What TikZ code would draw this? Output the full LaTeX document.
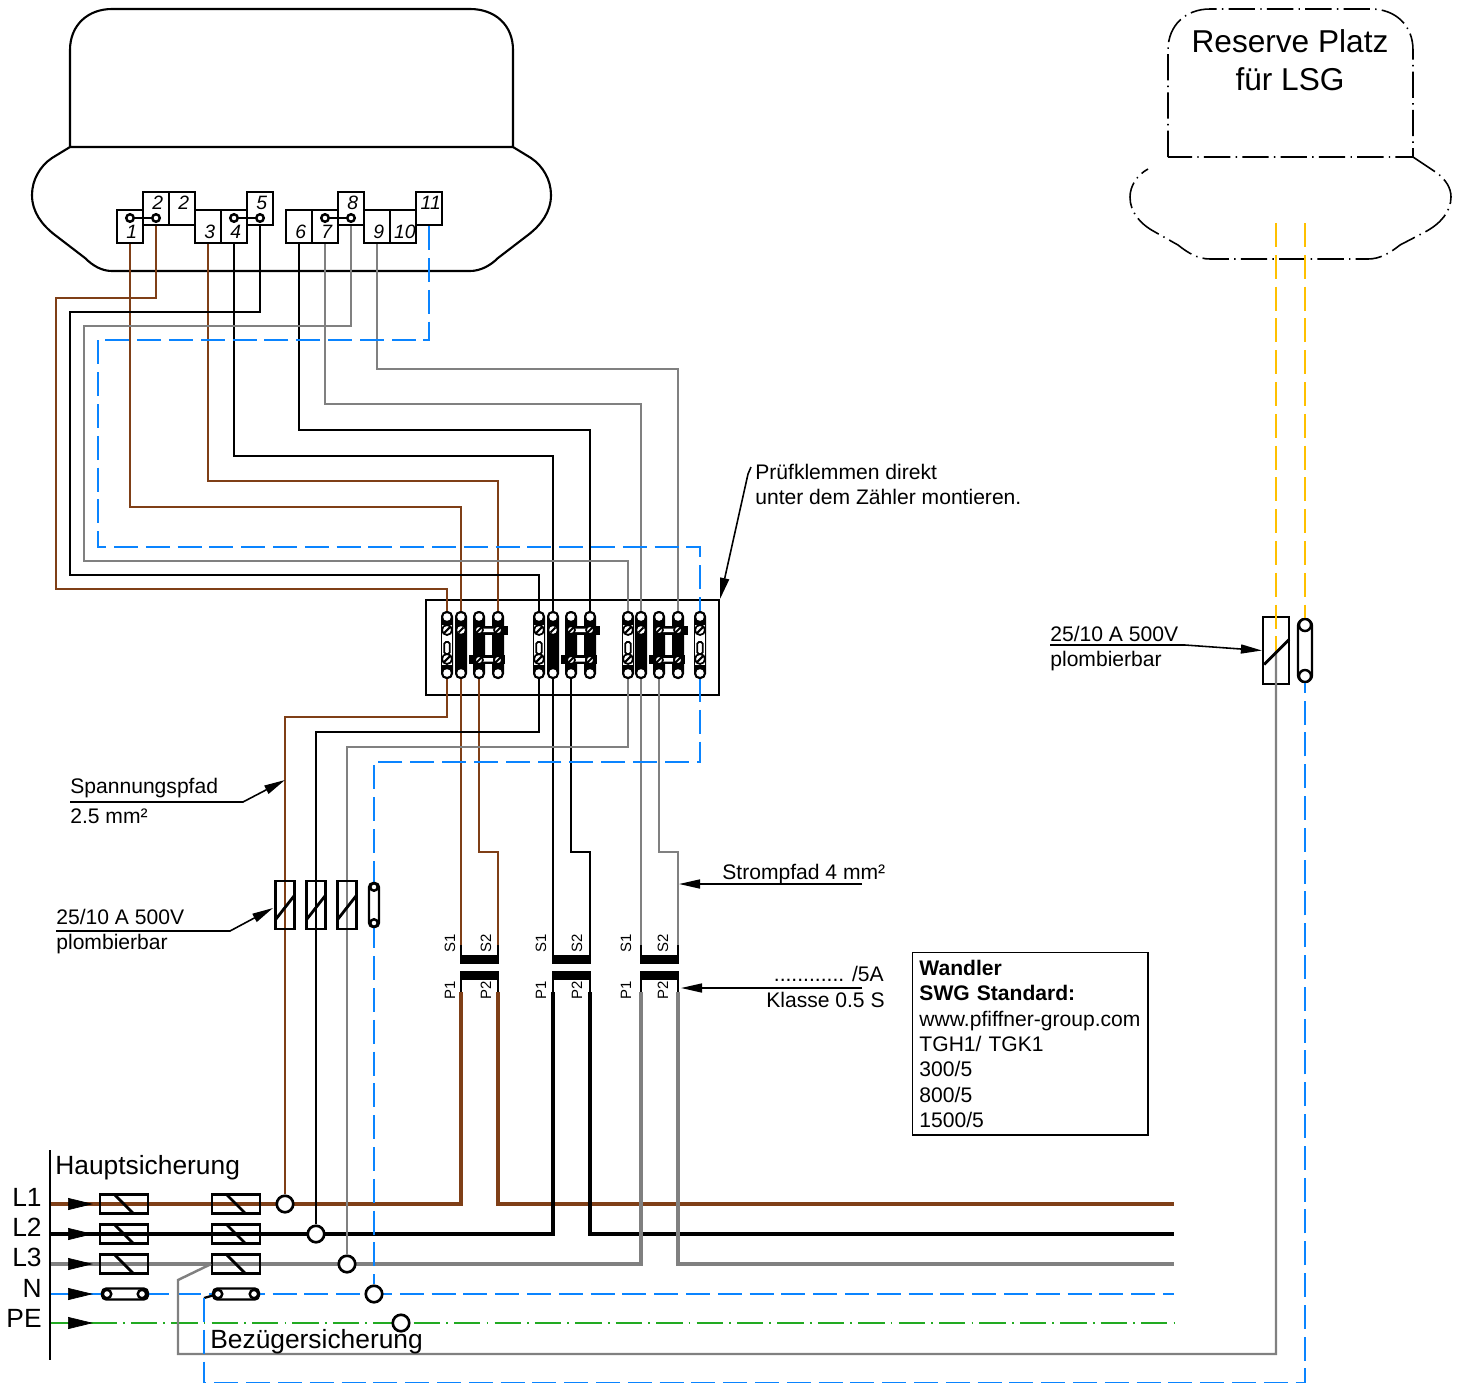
\documentclass[tikz,border=0pt]{standalone}
\usepackage{fontspec}
\setmainfont{Liberation Sans}
\usetikzlibrary{calc}
\usetikzlibrary{arrows.meta,positioning}
\definecolor{kabelbraun}{HTML}{7F3F17}
\definecolor{kabelgrau}{HTML}{808080}
\definecolor{kabelblau}{HTML}{0A84FF}
\definecolor{kabelgruen}{HTML}{22AA22}
\definecolor{kabelgelb}{HTML}{FFC000}
\tikzset{
  draht/.style={line width=1.4pt,line join=miter},
  dick/.style={line width=2.4pt,line join=miter},
  braun/.style={draht,color=kabelbraun},
  schwarz/.style={draht,color=black},
  grau/.style={draht,color=kabelgrau},
  blau/.style={draht,line width=1.5pt,color=kabelblau,dash pattern=on 13.6pt off 4.5pt},
  gelb/.style={draht,line width=1.5pt,color=kabelgelb,dash pattern=on 13.6pt off 4.5pt},
  gruen/.style={draht,color=kabelgruen,dash pattern=on 15pt off 3.5pt on 1pt off 3.5pt},
  reserve/.style={line width=.9pt,dash pattern=on 15pt off 3pt on .8pt off 3pt},
  pfeil/.style={line width=.9pt,-{Stealth[length=.42cm,width=.18cm,inset=0pt]}},
  einspeisung/.style={line width=.4pt,-{Stealth[length=.5cm,width=.24cm,inset=0pt]}},
  text11/.style={inner sep=0pt,font=\fontsize{12}{14.5}\selectfont},
  anschluss/.style={draw,line width=1.4pt,fill=white,inner sep=0pt,minimum width=.52cm,minimum height=.66cm,font=\fontsize{11}{11}\selectfont\itshape,execute at begin node={\hspace*{2pt}}},
  anschlussoben/.style={anschluss,text height=.34cm,text depth=.32cm},
  anschlussunten/.style={anschluss,text height=.57cm,text depth=.09cm},
  oese/.style={draw,circle,line width=1.4pt,fill=white,inner sep=0pt,minimum size=.15cm},
  knoten/.style={draw,circle,line width=1.5pt,fill=white,inner sep=0pt,minimum size=.33cm},
  sicherungh/.style={draw,line width=1.25pt,inner sep=0pt,minimum width=.95cm,minimum height=.38cm},
  sicherungv/.style={draw,line width=1.25pt,inner sep=0pt,minimum width=.38cm,minimum height=.95cm},
  kappe/.style={draw,line width=1.4pt,fill=white,inner sep=0pt,rounded corners=2.5pt},
  wandlertext/.style={inner sep=0pt,rotate=90,font=\fontsize{8.5}{8.5}\selectfont},
  pics/klemmeA/.style={code={
    \fill[rounded corners=3pt] (-6,-34) rectangle (6,34);
    \fill[white,draw=black,line width=.5pt] (-5.5,-21) rectangle (5.5,20);
    \fill[white,draw=black,line width=1pt,rounded corners=1pt] (-2.8,-3) rectangle (2.8,9);
    \foreach \y in {-15,14} {
      \draw[fill=white,line width=1pt] (0,\y) circle [radius=5];
      \draw[line width=1.2pt] (-3.2,\y+3.2) -- (3.2,\y-3.2);
    }
    \fill[white] (0,-28) circle [radius=3.8] (0,28) circle [radius=3.8];
  }},
  pics/klemmeB/.style={code={
    \fill[rounded corners=3pt] (-6,-34) rectangle (6,34);
    \fill[white] (0,-15) circle [radius=3.8];
    \draw[line width=1.1pt] (-2.6,-12.4) -- (2.6,-17.6);
    \fill[white] (0,-28) circle [radius=3.8] (0,28) circle [radius=3.8];
  }},
  pics/klemmeC/.style={code={
    \fill[rounded corners=3pt] (-6,-34) rectangle (6,34);
    \fill[rounded corners=3pt] (13,-34) rectangle (25,34);
    \fill (-6,-19) rectangle (29,-10);
    \fill (-10,10) rectangle (26,19);
    \fill[white] (3,-16.5) rectangle (18,-13) (4,13) rectangle (14,16.5);
    \foreach \x in {0,19} {
      \foreach \y in {-15,15} {
        \draw[fill=white,line width=1pt] (\x,\y) circle [radius=4];
        \draw[line width=1.1pt] (\x-2.8,\y+2.8) -- (\x+2.8,\y-2.8);
      }
      \fill[white] (\x,-28) circle [radius=3.8] (\x,28) circle [radius=3.8];
    }
  }},
}
\begin{document}
\begin{tikzpicture}[x=0.02cm,y=-0.02cm]
  \useasboundingbox (0,0) rectangle (1461,1383);

  % Zaehler
  \draw[line width=1.2pt] (70,147) -- (70,50) .. controls (70,25) and (88,9) .. (112,9) -- (470,9) .. controls (495,9) and (513,25) .. (513,50) -- (513,147) -- (70,147);
  \draw[line width=1.2pt] (70,147) -- (52,158) .. controls (40,166) and (32,180) .. (32,195) .. controls (32,212) and (42,225) .. (55,235) -- (85,258) .. controls (93,266) and (102,271) .. (112,271) -- (470,271) .. controls (480,271) and (490,266) .. (498,258) -- (528,235) .. controls (541,225) and (551,212) .. (551,195) .. controls (551,180) and (543,166) .. (531,158) -- (513,147);

  % Reserve Platz
  \draw[reserve] (1168,157) -- (1168,50) .. controls (1168,25) and (1186,9) .. (1210,9) -- (1371,9) .. controls (1395,9) and (1413,25) .. (1413,50) -- (1413,157) -- cycle;
  \draw[reserve] (1413,157) -- (1437,173) .. controls (1446,180) and (1451,188) .. (1451,197) .. controls (1451,212) and (1440,224) .. (1425,232) -- (1400,245) .. controls (1390,253) and (1380,259) .. (1368,259) -- (1210,259) .. controls (1198,259) and (1188,253) .. (1178,245) -- (1155,232) .. controls (1140,224) and (1130,212) .. (1130,197) .. controls (1130,186) and (1137,175) .. (1148,169);
  \node[inner sep=0pt,align=center,font=\fontsize{18}{21.5}\selectfont] (reservetext) at (1290,60) {Reserve Platz\\f\"ur LSG};

  % Anschluesse
  \foreach \n/\x in {1/130,3/208,4/234,6/299,7/325,9/377,10/403}
    \node[anschlussunten] (t\n) at (\x,226.5) {\n};
  \foreach \n/\x in {2/156,5/260,8/351,11/429}
    \node[anschlussoben] (t\n) at (\x,208.5) {\n};
  \node[anschlussoben] (t2b) at (182,208.5) {2};
  \node[oese] (o1) at (130,218) {};
  \node[oese] (o2) at (156,218) {};
  \node[oese] (o4) at (234,218) {};
  \node[oese] (o5) at (260,218) {};
  \node[oese] (o7) at (325,218) {};
  \node[oese] (o8) at (351,218) {};
  \draw[line width=1.3pt] (o1) -- (o2);
  \draw[line width=1.3pt] (o4) -- (o5);
  \draw[line width=1.3pt] (o7) -- (o8);

  % Pruefklemmen
  \node[draw,line width=1.3pt,inner sep=0pt,minimum width=5.86cm,minimum height=1.9cm] (pruefblock) at (572.5,647.5) {};
  \foreach \n/\x in {1/447,2/461,3/479,4/498,5/539,6/553,7/571,8/590,9/628,10/641,11/659,12/678,13/700} {
    \coordinate (k\n t) at (\x,613);
    \coordinate (k\n b) at (\x,678);
    \coordinate (k\n) at (\x,645);
  }
  % Wandler
  \foreach \n/\a/\b in {1/461/498,2/553/590,3/641/678} {
    \coordinate (sl\n) at (\a,945);
    \coordinate (sr\n) at (\b,945);
    \coordinate (pl\n) at (\a,992);
    \coordinate (pr\n) at (\b,992);
  }

  % Sammelschienen
  \coordinate (l1) at (50,1204);
  \coordinate (l2) at (50,1234);
  \coordinate (l3) at (50,1264);
  \coordinate (ln) at (50,1294);
  \coordinate (lpe) at (50,1323);
  \coordinate (r1) at (1174,1204);
  \coordinate (r2) at (1174,1234);
  \coordinate (r3) at (1174,1264);
  \coordinate (rn) at (1174,1294);
  \coordinate (rpe) at (1174,1323);
  \draw[blau] (ln) -- (rn);
  \draw[gruen] (lpe) -- (rpe);
  \draw[dick,color=kabelbraun] (l1) -| (pl1);
  \draw[dick,color=kabelbraun] (pr1) |- (r1);
  \draw[dick,color=black] (l2) -| (pl2);
  \draw[dick,color=black] (pr2) |- (r2);
  \draw[dick,color=kabelgrau] (l3) -| (pl3);
  \draw[dick,color=kabelgrau] (pr3) |- (r3);

  % Abgriffe
  \node[knoten] (a1) at (285,1204) {};
  \node[knoten] (a2) at (316,1234) {};
  \node[knoten] (a3) at (347,1264) {};
  \node[knoten] (a4) at (374,1294) {};
  \node[knoten] (a5) at (401,1323) {};

  % Verdrahtung oben
  \draw[braun] (t2.south) |- (56,298) -- (56,589) -| (k1t);
  \draw[braun] (t1.south) |- (461,507) -- (k2t);
  \draw[braun] (t3.south) |- (498,481) -- (k4t);
  \draw[schwarz] (t5.south) |- (70,312) -- (70,575) -| (k5t);
  \draw[schwarz] (t4.south) |- (553,456) -- (k6t);
  \draw[schwarz] (t6.south) |- (590,430) -- (k8t);
  \draw[grau] (t8.south) |- (84,326) -- (84,561) -| (k9t);
  \draw[grau] (t7.south) |- (641,404) -- (k10t);
  \draw[grau] (t9.south) |- (678,369) -- (k12t);
  \draw[blau] (t11.south) |- (98,340) -- (98,547) -| (k13t);

  % Verdrahtung unten
  \draw[braun] (k1b) -- ++(0,39) -| (a1);
  \draw[braun] (k2b) -- (sl1);
  \draw[braun] (k3b) -- ++(0,174) -| (sr1);
  \draw[schwarz] (k5b) -- ++(0,54) -| (a2);
  \draw[schwarz] (k6b) -- (sl2);
  \draw[schwarz] (k7b) -- ++(0,174) -| (sr2);
  \draw[grau] (k9b) -- ++(0,69) -| (a3);
  \draw[grau] (k10b) -- (sl3);
  \draw[grau] (k11b) -- ++(0,174) -| (sr3);
  \draw[blau] (k13b) -- ++(0,84) -| (a4);

  % Wandlerbalken
  \foreach \n/\a/\b in {1/461/498,2/553/590,3/641/678} {
    \fill (\a-1,955) rectangle (\b+1,964);
    \fill (\a-1,971) rectangle (\b+1,980);
    \draw[line width=1.3pt] (sl\n) -- ++(0,10);
    \draw[line width=1.3pt] (sr\n) -- ++(0,10);
    \draw[line width=1.3pt] (\a,980) -- (pl\n);
    \draw[line width=1.3pt] (\b,980) -- (pr\n);
  }
  \foreach \n/\a/\b in {1/450/486,2/541/577,3/626/663} {
    \node[wandlertext] (s1\n) at (\a,943) {S1};
    \node[wandlertext] (s2\n) at (\b,943) {S2};
    \node[wandlertext] (p1\n) at (\a,990) {P1};
    \node[wandlertext] (p2\n) at (\b,990) {P2};
  }

  % Klemmen
  \pic at (k1) {klemmeA};
  \pic at (k2) {klemmeB};
  \pic at (k3) {klemmeC};
  \pic at (k5) {klemmeA};
  \pic at (k6) {klemmeB};
  \pic at (k7) {klemmeC};
  \pic at (k9) {klemmeA};
  \pic at (k10) {klemmeB};
  \pic at (k11) {klemmeC};
  \pic at (k13) {klemmeA};

  % Vorsicherungen senkrecht
  \foreach \n/\x in {1/285,2/316,3/347} {
    \node[sicherungv] (v\n) at (\x,905) {};
    \draw[line width=1.6pt] ($(v\n.center)+(-9,14)$) -- ($(v\n.center)+(9,-9)$);
  }
  \node[kappe,minimum width=.2cm,minimum height=.88cm] (vn) at (374,905) {};
  \node[oese,minimum size=.15cm] (vn1) at (374,887) {};
  \node[oese,minimum size=.15cm] (vn2) at (374,923) {};

  % Sicherungen waagrecht
  \foreach \n/\y in {1/1204,2/1234,3/1264} {
    \node[sicherungh] (h\n) at (124,\y) {};
    \node[sicherungh] (b\n) at (236,\y) {};
    \draw[line width=1.6pt] ($(h\n.center)+(-9,-9)$) -- ($(h\n.center)+(9,9)$);
    \draw[line width=1.6pt] ($(b\n.center)+(-9,-9)$) -- ($(b\n.center)+(9,9)$);
  }
  \node[kappe,minimum width=.92cm,minimum height=.22cm] (hn) at (125,1294) {};
  \node[oese,minimum size=.17cm] (hn1) at (107,1294) {};
  \node[oese,minimum size=.17cm] (hn2) at (142,1294) {};
  \node[kappe,minimum width=.92cm,minimum height=.22cm] (bn) at (236,1294) {};
  \node[oese,minimum size=.17cm] (bn1) at (218,1294) {};
  \node[oese,minimum size=.17cm] (bn2) at (254,1294) {};

  % Leitungen zum LSG
  \coordinate (lsgl) at (1276,223);
  \coordinate (lsgr) at (1305,223);
  \node[sicherungv,minimum width=.52cm,minimum height=1.34cm] (lsgf) at (1276,650.5) {};
  \coordinate (abzweigl) at (178,1280);
  \draw[grau] (b3.west) -- (abzweigl) |- (1276,1354) -- (lsgf.center);
  \draw[gelb] (lsgl) -- (lsgf.center);
  \coordinate (abzweign) at (204,1298);
  \draw[line width=1.3pt] (abzweign) -- (bn1);
  \draw[line width=1.6pt] ($(lsgf.center)+(-12,14)$) -- ($(lsgf.center)+(13,-11)$);
  \node[kappe,minimum width=.28cm,minimum height=1.26cm,rounded corners=4pt] (lsgn) at (1305,650.5) {};
  \node[oese,minimum size=.24cm] (lsgn1) at (1305,625) {};
  \node[oese,minimum size=.24cm] (lsgn2) at (1305,676) {};
  \draw[gelb] (lsgr) -- (lsgn1);
  \draw[blau] (abzweign) |- (1305,1383) -- (lsgn2);

  % Einspeisung
  \draw[line width=1.3pt] (50,1150) -- (50,1360);
  \foreach \n/\y in {1/1204,2/1234,3/1264,4/1294,5/1323}
    \draw[einspeisung] (68,\y) -- (93,\y);
  \node[inner sep=0pt,anchor=base east,font=\fontsize{15}{15}\selectfont] (nl1) at (42,1206) {L1};
  \node[inner sep=0pt,anchor=base east,font=\fontsize{15}{15}\selectfont] (nl2) at (42,1236) {L2};
  \node[inner sep=0pt,anchor=base east,font=\fontsize{15}{15}\selectfont] (nl3) at (42,1266) {L3};
  \node[inner sep=0pt,anchor=base east,font=\fontsize{15}{15}\selectfont] (nln) at (42,1297) {N};
  \node[inner sep=0pt,anchor=base east,font=\fontsize{15}{15}\selectfont] (nlpe) at (42,1327) {PE};
  \node[inner sep=0pt,anchor=base west,font=\fontsize{15}{15}\selectfont] (haupt) at (55,1174) {Hauptsicherung};
  \node[inner sep=0pt,anchor=base west,font=\fontsize{15}{15}\selectfont] (bezueger) at (210,1348) {Bez\"ugersicherung};

  % Beschriftungen
  \node[text11,anchor=base west] (prueftexta) at (755,479) {Pr\"ufklemmen direkt};
  \node[text11,anchor=base west] (prueftextb) at (755,504) {unter dem Z\"ahler montieren.};
  \coordinate (pruefhaken) at (751,467);
  \draw[pfeil] (pruefhaken) -- ++(-3,7) -- (pruefblock.north east);

  \node[text11,anchor=base west] (spannung) at (70,793) {Spannungspfad};
  \node[text11,anchor=base west] (spannungb) at (70,823) {2.5 mm²};
  \coordinate (spannunga) at (70,802);
  \coordinate (spannungz) at (285,780);
  \draw[pfeil] (spannunga) -- ++(173,0) -- (spannungz);

  \node[text11,anchor=base west] (vora) at (56,924) {25/10 A 500V};
  \node[text11,anchor=base west] (vorb) at (56,949) {plombierbar};
  \coordinate (vorlinie) at (56,931);
  \coordinate (vorz) at (273,908);
  \draw[pfeil] (vorlinie) -- ++(174,0) -- (vorz);

  \node[text11,anchor=base west] (strom) at (722,879) {Strompfad 4 mm²};
  \coordinate (stroma) at (862,884);
  \coordinate (stromz) at (679,884);
  \draw[pfeil] (stroma) -- (stromz);

  \node[text11,anchor=base east] (klassea) at (884,981) {............ /5A};
  \node[text11,anchor=base east] (klasseb) at (885,1007) {Klasse 0.5 S};
  \coordinate (klasselinie) at (862,988);
  \coordinate (klassez) at (681,988);
  \draw[pfeil] (klasselinie) -- (klassez);

  \node[text11,anchor=base west] (lsga) at (1050,641) {25/10 A 500V};
  \node[text11,anchor=base west] (lsgb) at (1050,666) {plombierbar};
  \coordinate (lsglinie) at (1050,645);
  \draw[pfeil] (lsglinie) -- ++(135,0) -- (lsgf.west);

  \node[draw,line width=1.1pt,text11,anchor=north west,align=left,minimum width=4.72cm,minimum height=3.66cm,text width=4.44cm,inner xsep=.14cm] (wandler) at (911.5,951.5)
    {\textbf{Wandler}\\\textbf{SWG Standard:}\\www.pfiffner-group.com\\TGH1/ TGK1\\300/5\\800/5\\1500/5};
\end{tikzpicture}
\end{document}
